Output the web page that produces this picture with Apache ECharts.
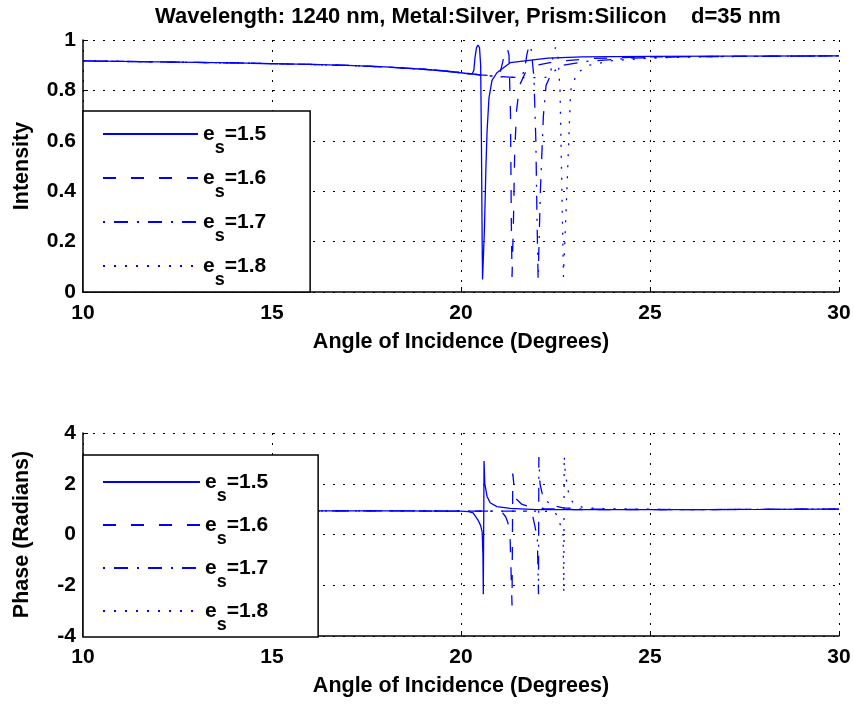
<!DOCTYPE html>
<html>
<head>
<meta charset="utf-8">
<script src="https://cdn.jsdelivr.net/npm/echarts@6/dist/echarts.min.js"></script>
<style>
  html, body { margin: 0; padding: 0; background: #fff; }
  #chart { width: 854px; height: 704px; }
</style>
</head>
<body>
<div id="chart"></div>
<script>
const seriesNames = ['es=1.5', 'es=1.6', 'es=1.7', 'es=1.8'];
const xTicks = { min: 10, max: 30, interval: 5 };

// reflected intensity vs angle, one list per e_s
const intensity15 = [[10,0.917],[12,0.913],[14,0.909],[16,0.903],[17,0.899],[18,0.893],[19,0.884],[19.5,0.878],[20,0.870],[20.2,0.866],[20.3,0.866],
  [20.34,0.88],[20.37,0.93],[20.41,0.97],[20.45,0.98],[20.49,0.97],[20.52,0.9],[20.54,0.6],[20.56,0.2],[20.57,0.05],[20.62,0.25],[20.66,0.5],
  [20.69,0.64],[20.74,0.77],[20.82,0.84],[20.95,0.87],[21.3,0.91],[22.3,0.928],[23.2,0.933],[25,0.935],[27,0.936],[30,0.937]];
const intensity16 = [[10,0.917],[12,0.913],[14,0.909],[16,0.903],[17,0.899],[18,0.893],[19,0.884],[19.5,0.878],[20,0.870],[20.3,0.865],
  [20.5,0.862],[20.8,0.858],[21.0,0.86],[21.05,0.88],[21.1,0.91],[21.16,0.95],[21.22,0.97],[21.27,0.94],[21.31,0.7],[21.33,0.3],[21.35,0.06],
  [21.39,0.3],[21.42,0.55],[21.47,0.72],[21.55,0.82],[21.7,0.87],[22.0,0.9],[22.5,0.915],[23.5,0.927],[25,0.933],[30,0.937]];
const intensity17 = [[10,0.917],[12,0.913],[14,0.909],[16,0.903],[17,0.899],[18,0.893],[19,0.884],[19.5,0.878],[20,0.870],[20.3,0.865],
  [20.6,0.86],[21.0,0.855],[21.4,0.852],[21.6,0.855],[21.68,0.88],[21.74,0.94],[21.8,0.98],[21.86,0.96],[21.93,0.85],[21.98,0.6],[22.01,0.3],
  [22.04,0.05],[22.1,0.4],[22.18,0.7],[22.25,0.82],[22.4,0.87],[22.7,0.9],[23.3,0.915],[24.5,0.928],[26,0.934],[30,0.937]];
const intensity18 = [[10,0.917],[12,0.913],[14,0.909],[16,0.903],[17,0.899],[18,0.893],[19,0.884],[19.5,0.878],[20,0.870],[20.3,0.865],
  [20.6,0.86],[21.2,0.852],[21.8,0.85],[22.3,0.852],[22.38,0.88],[22.44,0.94],[22.5,0.97],[22.56,0.95],[22.62,0.8],[22.67,0.4],[22.71,0.06],
  [22.8,0.4],[22.9,0.8],[23.07,0.87],[23.4,0.9],[24,0.918],[25,0.928],[26.5,0.934],[30,0.937]];

// phase vs angle, one list per e_s
const phase15 = [[10,0.93],[14,0.93],[18,0.93],[20,0.92],[20.2,0.9],[20.32,0.85],[20.45,0.57],[20.52,0.35],[20.56,0.1],[20.58,-0.8],[20.59,-2.35],
  [20.61,2.9],[20.63,2.0],[20.69,1.5],[20.77,1.25],[20.95,1.1],[21.3,1.03],[22,0.98],[25,0.98],[28,0.99],[30,1.0]];
const phase16 = [[10,0.93],[14,0.93],[18,0.93],[20,0.92],[20.6,0.92],[21.0,0.93],[21.1,0.85],[21.18,0.7],[21.24,0.47],[21.3,-0.2],[21.35,-2.8],
  [21.37,2.4],[21.41,1.8],[21.46,1.4],[21.6,1.2],[21.75,1.12],[22.2,1.02],[23,0.98],[26,0.98],[30,1.0]];
const phase17 = [[10,0.93],[14,0.93],[18,0.93],[21,0.92],[21.8,0.92],[21.9,0.7],[21.96,0.3],[22.02,-0.2],[22.05,-2.35],[22.06,3.05],[22.09,2.0],
  [22.15,1.6],[22.22,1.37],[22.4,1.15],[22.7,1.05],[23.3,1.0],[26,0.98],[30,1.0]];
const phase18 = [[10,0.93],[14,0.93],[18,0.93],[22,0.92],[22.45,0.9],[22.52,0.8],[22.57,0.6],[22.65,0.3],[22.7,0.0],[22.72,-2.3],[22.73,3.1],
  [22.76,2.4],[22.85,1.6],[22.96,1.25],[23.2,1.08],[23.6,1.02],[26,0.98],[30,1.0]];

const intensityData = [intensity15, intensity16, intensity17, intensity18];
const phaseData = [phase15, phase16, phase17, phase18];
const dashTypes = ['solid', [13, 15], [2, 9, 14, 9], [2, 9]];

const font = 'Liberation Sans, Arial, Helvetica, sans-serif';
const blue = '#0000ff';

function xAxisFor(grid) {
  return {
    gridIndex: grid, type: 'value', min: xTicks.min, max: xTicks.max, interval: xTicks.interval,
    name: 'Angle of Incidence (Degrees)', nameLocation: 'middle', nameGap: 39,
    nameTextStyle: { fontSize: 21.5, fontWeight: 'bold', color: '#000', fontFamily: font },
    axisLabel: { fontSize: 21, fontWeight: 'bold', color: '#000', fontFamily: font, margin: 11 },
    axisLine: { onZero: false, lineStyle: { color: '#000', width: 1.5 } },
    axisTick: { inside: true, length: 5, lineStyle: { color: '#000' } },
    splitLine: { show: true, lineStyle: { color: '#000', width: 1, type: [2, 8] } }
  };
}

function yAxisFor(grid, min, max, interval, name) {
  return {
    gridIndex: grid, type: 'value', min: min, max: max, interval: interval,
    name: name, nameLocation: 'middle', nameGap: 50,
    nameTextStyle: { fontSize: 21.5, fontWeight: 'bold', color: '#000', fontFamily: font },
    axisLabel: { fontSize: 21, fontWeight: 'bold', color: '#000', fontFamily: font, margin: 7 },
    axisLine: { show: true, lineStyle: { color: '#000', width: 1.5 } },
    axisTick: { inside: true, length: 5, lineStyle: { color: '#000' } },
    splitLine: { show: true, lineStyle: { color: '#000', width: 1, type: [2, 8] } }
  };
}

function legendFor(top, itemWidth, padding, itemGap) {
  return {
    left: 83, top: top, orient: 'vertical', data: seriesNames,
    itemWidth: itemWidth, itemHeight: 14, itemGap: itemGap,
    itemStyle: { opacity: 0 },
    backgroundColor: '#fff', borderColor: '#000', borderWidth: 1.5, borderRadius: 0,
    padding: padding, selectedMode: false,
    formatter: name => '{e|e}{s|s}{e|' + name.slice(2) + '}',
    textStyle: {
      color: '#000', fontFamily: font,
      rich: {
        e: { fontSize: 21, fontWeight: 'bold', lineHeight: 21, color: '#000', fontFamily: font },
        s: { fontSize: 18, fontWeight: 'bold', lineHeight: 18, color: '#000', fontFamily: font, padding: [28, 0, 0, 0] }
      }
    }
  };
}

const series = [];
seriesNames.forEach((name, i) => {
  series.push({
    name: name, type: 'line', xAxisIndex: 0, yAxisIndex: 0, data: intensityData[i],
    symbol: 'none', showSymbol: false, animation: false,
    lineStyle: { color: blue, width: 1.3, type: dashTypes[i] }, itemStyle: { color: blue }
  });
});
seriesNames.forEach((name, i) => {
  series.push({
    name: name, type: 'line', xAxisIndex: 1, yAxisIndex: 1, data: phaseData[i],
    symbol: 'none', showSymbol: false, animation: false,
    lineStyle: { color: blue, width: 1.3, type: dashTypes[i] }, itemStyle: { color: blue }
  });
});

const myChart = echarts.init(document.getElementById('chart'));
myChart.setOption({
  animation: false,
  backgroundColor: '#fff',
  title: {
    text: 'Wavelength: 1240 nm, Metal:Silver, Prism:Silicon    d=35 nm',
    left: 463, top: 1, textAlign: 'center',
    textStyle: { fontSize: 22, fontWeight: 'bold', color: '#000', fontFamily: font }
  },
  grid: [
    { left: 83, right: 15, top: 40, height: 252 },
    { left: 83, right: 15, top: 433, height: 203 }
  ],
  xAxis: [xAxisFor(0), xAxisFor(1)],
  yAxis: [
    yAxisFor(0, 0, 1, 0.2, 'Intensity'),
    yAxisFor(1, -4, 4, 2, 'Phase (Radians)')
  ],
  legend: [
    legendFor(111, 95, [0, 44, 3, 19], -2),
    legendFor(455, 97, [4, 50, 3, 19], -3)
  ],
  series: series
});
</script>
</body>
</html>
